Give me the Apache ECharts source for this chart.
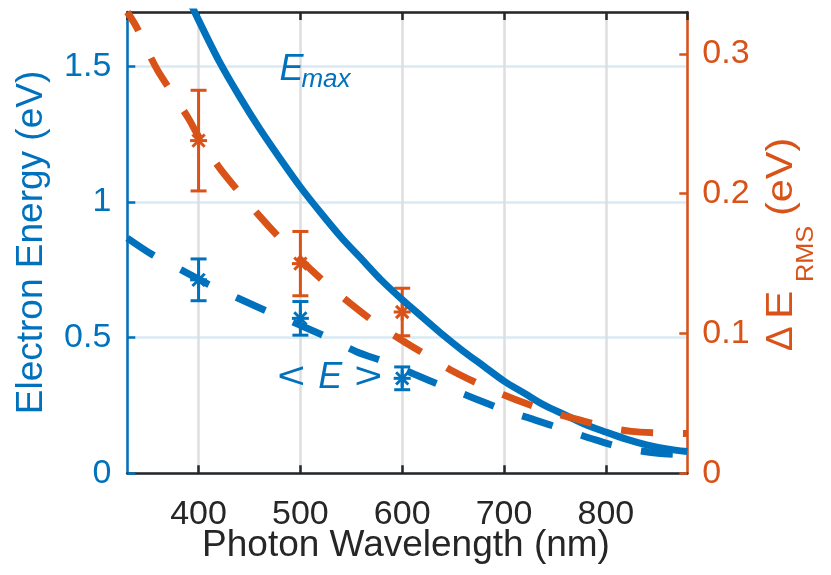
<!DOCTYPE html>
<html><head><meta charset="utf-8">
<script src="https://cdn.jsdelivr.net/npm/echarts@6/dist/echarts.min.js"></script>
<style>html,body{margin:0;padding:0;background:#fff}#c{width:831px;height:575px}</style>
</head><body><div id="c"></div>
<script>
// ---- data ----
const emaxWavelength = [390, 400, 420, 440, 460, 480, 500, 520, 540, 560, 580, 600, 620, 640, 660, 680, 700, 720, 740, 760, 780, 800, 820, 840, 860, 880];
const emaxEnergy     = [1.75, 1.67, 1.52, 1.39, 1.27, 1.16, 1.055, 0.96, 0.87, 0.79, 0.71, 0.64, 0.575, 0.51, 0.45, 0.395, 0.34, 0.295, 0.25, 0.215, 0.18, 0.152, 0.126, 0.105, 0.09, 0.08];

const meanWavelength = [330, 355, 383, 411, 439, 468, 499, 525, 555, 583, 612, 641, 671, 700, 730, 760, 790, 819, 851, 880];
const meanEnergy     = [0.867, 0.805, 0.75, 0.694, 0.645, 0.596, 0.547, 0.504, 0.448, 0.411, 0.365, 0.32, 0.276, 0.233, 0.197, 0.16, 0.123, 0.092, 0.074, 0.067];

const rmsWavelength = [330, 340, 350, 360, 375, 390, 400, 420, 440, 460, 480, 500, 525, 550, 575, 600, 625, 650, 675, 700, 725, 750, 775, 800, 825, 850, 880];
const rmsEnergy     = [0.33, 0.318, 0.302, 0.288, 0.271, 0.254, 0.241, 0.219, 0.201, 0.184, 0.168, 0.153, 0.136, 0.121, 0.107, 0.095, 0.084, 0.073, 0.064, 0.056, 0.049, 0.043, 0.038, 0.033, 0.030, 0.029, 0.0285];

const measWavelength = [400, 500, 600];
const measMean       = [0.713, 0.571, 0.35];
const measMeanErr    = [0.077, 0.062, 0.042];
const measRms        = [0.238, 0.15, 0.1154];
const measRmsErr     = [0.036, 0.023, 0.017];

const xAxisTitle = 'Photon Wavelength (nm)';
const yLeftTitle = 'Electron Energy (eV)';

// ---- styling ----
const BLUE = '#0072BD', ORANGE = '#D95319', DARK = '#262626';
const FONT = '"Liberation Sans", Arial, Helvetica, sans-serif';
const zip = (a, b) => a.map((v, i) => [v, b[i]]);

function errRender(color) {
  return function (params, api) {
    const x = api.value(0), m = api.value(1), e = api.value(2);
    const c = api.coord([x, m]), t = api.coord([x, m + e]), b = api.coord([x, m - e]);
    const cap = 8, r = 8.5, d = r * 0.72;
    const st = { stroke: color, lineWidth: 3, fill: null };
    const L = [
      [c[0], t[1], c[0], b[1]],
      [c[0] - cap, t[1], c[0] + cap, t[1]],
      [c[0] - cap, b[1], c[0] + cap, b[1]],
      [c[0] - r, c[1], c[0] + r, c[1]],
      [c[0], c[1] - r, c[0], c[1] + r],
      [c[0] - d, c[1] - d, c[0] + d, c[1] + d],
      [c[0] - d, c[1] + d, c[0] + d, c[1] - d]
    ];
    return { type: 'group', children: L.map(l => ({ type: 'line', shape: { x1: l[0], y1: l[1], x2: l[2], y2: l[3] }, style: st })) };
  };
}

const chart = echarts.init(document.getElementById('c'), null, { renderer: 'canvas' });
const axisX = (pos, labels) => ({
  type: 'value', min: 330, max: 880, position: pos, splitNumber: 5,
  axisLine: { show: true, onZero: false, lineStyle: { color: DARK, width: 2.5 } },
  axisTick: { show: true, inside: true, length: 8, lineStyle: { color: DARK, width: 2.5 } },
  axisLabel: { show: labels, color: DARK, fontSize: 34, fontFamily: FONT, margin: 24, showMinLabel: false, showMaxLabel: false },
  splitLine: { show: labels, lineStyle: { color: '#dedede', width: 2.5 } }
});

chart.setOption({
  animation: false,
  backgroundColor: '#fff',
  grid: { left: 127.3, right: 143.7, top: 12, bottom: 101.7, containLabel: false },
  xAxis: [axisX('bottom', true), axisX('top', false)],
  yAxis: [
    {
      type: 'value', min: 0, max: 1.7, interval: 0.5, position: 'left',
      axisLine: { show: true, lineStyle: { color: BLUE, width: 2.5 } },
      axisTick: { show: true, inside: true, length: 8, lineStyle: { color: BLUE, width: 2.5 } },
      axisLabel: { color: BLUE, fontSize: 34, fontFamily: FONT, margin: 16, showMaxLabel: false },
      splitLine: { show: true, lineStyle: { color: '#d9eaf5', width: 2.5 } }
    },
    {
      type: 'value', min: 0, max: 0.33, interval: 0.1, position: 'right',
      axisLine: { show: true, lineStyle: { color: ORANGE, width: 2.5 } },
      axisTick: { show: true, inside: true, length: 8, lineStyle: { color: ORANGE, width: 2.5 } },
      axisLabel: { color: ORANGE, fontSize: 34, fontFamily: FONT, margin: 15, showMaxLabel: false },
      splitLine: { show: false }
    }
  ],
  series: [
    { type: 'custom', xAxisIndex: 0, yAxisIndex: 1, z: 2, renderItem: errRender(ORANGE),
      data: measWavelength.map((w, i) => [w, measRms[i], measRmsErr[i]]) },
    { type: 'line', xAxisIndex: 0, yAxisIndex: 0, z: 3, data: zip(emaxWavelength, emaxEnergy), showSymbol: false, smooth: 0.3,
      lineStyle: { color: BLUE, width: 7 } },
    { type: 'line', xAxisIndex: 0, yAxisIndex: 0, z: 3, data: zip(meanWavelength, meanEnergy), showSymbol: false, smooth: 0.3,
      lineStyle: { color: BLUE, width: 7, type: [32, 30], dashOffset: 0, cap: 'butt' } },
    { type: 'line', xAxisIndex: 0, yAxisIndex: 1, z: 4, data: zip(rmsWavelength, rmsEnergy), showSymbol: false, smooth: 0.3,
      lineStyle: { color: ORANGE, width: 7, type: [32, 30], dashOffset: 10, cap: 'butt' } },
    { type: 'custom', xAxisIndex: 0, yAxisIndex: 0, z: 5, renderItem: errRender(BLUE),
      data: measWavelength.map((w, i) => [w, measMean[i], measMeanErr[i]]) }
  ]
});

// ---- text annotations ----
const pEmax = chart.convertToPixel({ xAxisIndex: 0, yAxisIndex: 0 }, [481.4, 1.486]);
const pMean = chart.convertToPixel({ xAxisIndex: 0, yAxisIndex: 0 }, [529.4, 0.352]);
const txt = (o) => ({ type: 'text', z: 100, silent: true, ...o });
const sty = (text, size, color, extra) => ({ text, fill: color, font: (extra && extra.italic ? 'italic ' : '') + size + 'px ' + FONT, align: (extra && extra.align) || 'left', verticalAlign: 'middle' });

chart.setOption({
  graphic: [
    txt({ x: 406, y: 546, style: sty(xAxisTitle, 37, DARK, { align: 'center' }) }),
    txt({ x: 31.7, y: 242.5, rotation: Math.PI / 2, style: sty(yLeftTitle, 37, BLUE, { align: 'center' }) }),
    // right axis title: Δ E_RMS (eV)
    txt({ x: 781.5, y: 351, rotation: Math.PI / 2, style: sty('Δ', 37, ORANGE) }),
    txt({ x: 781.5, y: 319, rotation: Math.PI / 2, scaleX: 1.15, style: sty('E', 37, ORANGE) }),
    txt({ x: 807, y: 282, rotation: Math.PI / 2, scaleX: 1.1, style: sty('RMS', 23, ORANGE) }),
    txt({ x: 781.5, y: 216, rotation: Math.PI / 2, scaleX: 1.12, style: sty('(eV)', 37, ORANGE) }),
    // E_max
    txt({ x: pEmax[0] - 2, y: pEmax[1], style: sty('E', 36, BLUE, { italic: true }) }),
    txt({ x: pEmax[0] + 20, y: pEmax[1] + 10, style: sty('max', 26, BLUE, { italic: true }) }),
    // < E >
    txt({ x: pMean[0] - 39, y: pMean[1], scaleX: 1.3, style: sty('<', 37, BLUE, { align: 'center' }) }),
    txt({ x: pMean[0] - 12, y: pMean[1], style: sty('E', 36, BLUE, { italic: true }) }),
    txt({ x: pMean[0] + 38, y: pMean[1], scaleX: 1.3, style: sty('>', 37, BLUE, { align: 'center' }) })
  ]
});
</script>
</body></html>
